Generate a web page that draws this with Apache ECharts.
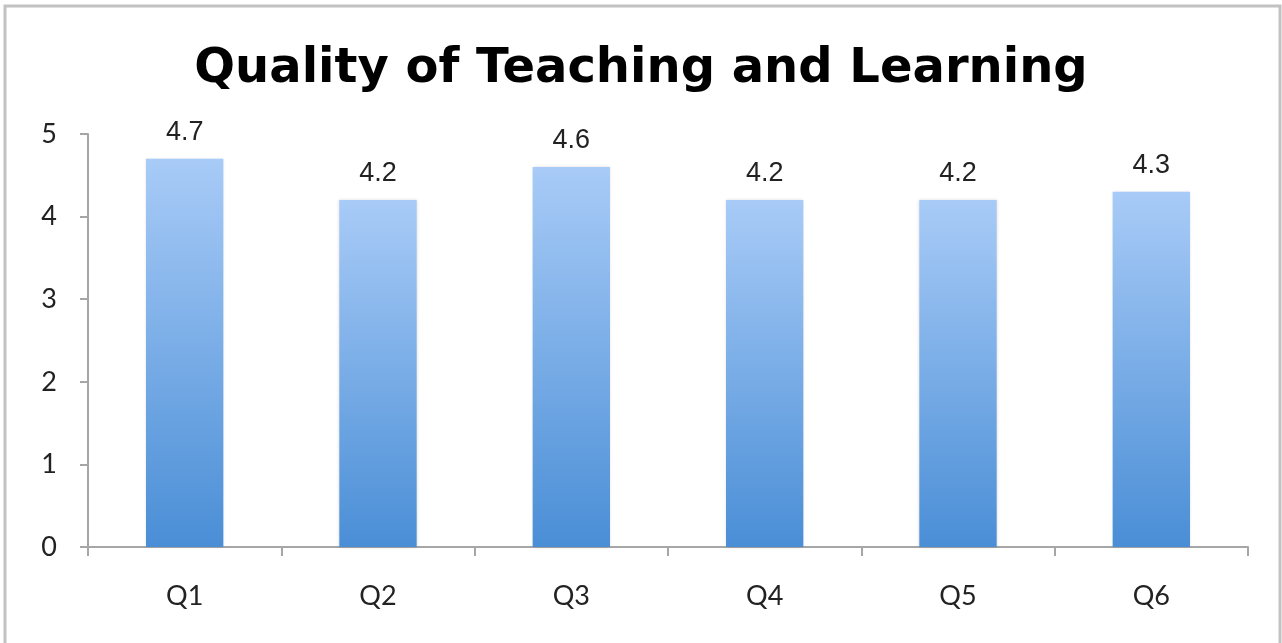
<!DOCTYPE html>
<html>
<head>
<meta charset="utf-8">
<script src="https://cdn.jsdelivr.net/npm/echarts@6/dist/echarts.min.js"></script>
<style>
  html, body { margin: 0; padding: 0; background: #fff; }
  #chart { width: 1282px; height: 643px; }
</style>
</head>
<body>
<div id="chart"></div>
<script>
// chart data
let categories = ["Q1", "Q2", "Q3", "Q4", "Q5", "Q6"];
let scores = [4.7, 4.2, 4.6, 4.2, 4.2, 4.3];
let yTicks = [0, 1, 2, 3, 4, 5];

let chart = echarts.init(document.getElementById("chart"));
let axisGray = "#a6a6a6";
let option = {
    animation: false,
    title: {
        text: "Quality of Teaching and Learning",
        left: "center",
        top: 41,
        textStyle: {
            fontFamily: "DejaVu Sans",
            fontWeight: "bold",
            fontSize: 48,
            color: "#000"
        }
    },
    graphic: [{
        type: "rect",
        shape: { x: 5, y: 6, width: 1275, height: 645 },
        style: { fill: null, stroke: "#c2c2c2", lineWidth: 3 },
        silent: true
    }],
    grid: {
        left: 88,
        right: 34,
        top: 134,
        bottom: 96
    },
    xAxis: {
        type: "category",
        data: categories,
        axisLine: { lineStyle: { color: axisGray, width: 2 } },
        axisTick: { show: true, length: 9, lineStyle: { color: axisGray, width: 2 } },
        axisLabel: {
            margin: 36,
            fontFamily: "Lato",
            fontSize: 27,
            color: "#222"
        }
    },
    yAxis: {
        type: "value",
        min: yTicks[0],
        max: yTicks[yTicks.length - 1],
        interval: 1,
        axisLine: { show: true, lineStyle: { color: axisGray, width: 2 } },
        axisTick: { show: true, length: 8, lineStyle: { color: axisGray, width: 2 } },
        splitLine: { show: false },
        axisLabel: {
            margin: 31,
            fontFamily: "Lato",
            fontSize: 27,
            color: "#222"
        }
    },
    series: [{
        type: "bar",
        data: scores,
        barWidth: "40%",
        itemStyle: {
            color: new echarts.graphic.LinearGradient(0, 0, 0, 1, [
                { offset: 0, color: "#a8cbf7" },
                { offset: 1, color: "#4a8ed6" }
            ]),
            shadowColor: "rgba(0,0,0,0.15)",
            shadowBlur: 3
        },
        label: {
            show: true,
            position: "top",
            distance: 13,
            fontFamily: "Liberation Sans",
            fontSize: 27,
            color: "#222"
        }
    }]
};
chart.setOption(option);
</script>
</body>
</html>
